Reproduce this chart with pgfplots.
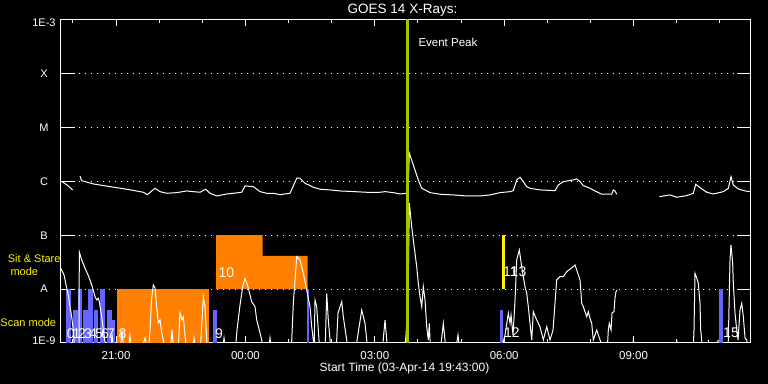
\documentclass[border=0pt]{standalone}
\usepackage{fontspec}
\setmainfont{Liberation Sans}
\usepackage{pgfplots}
\pgfplotsset{compat=1.18}
\definecolor{scanblue}{RGB}{102,102,255}
\definecolor{ssorange}{RGB}{255,128,0}
\definecolor{peakgreen}{RGB}{160,200,0}
\newcommand{\fs}[1]{\fontsize{#1bp}{#1bp}\selectfont}
\begin{document}
\begin{tikzpicture}
\fill[black] (0,0) rectangle (768bp,384bp);
\begin{axis}[
  at={(60.7bp,41bp)}, anchor=south west,
  scale only axis, width=690bp, height=323.5bp,
  xmin=-4.2833, xmax=11.7167, ymin=-9, ymax=-3,
  axis line style={white, line width=1bp},
  xtick={-3,0,3,6,9}, xticklabels={21:00,00:00,03:00,06:00,09:00},
  minor xtick={-4,-2,-1,1,2,4,5,7,8,10,11},
  ytick={-9,-8,-7,-6,-5,-4,-3},
  yticklabels={\raisebox{2.8bp}{1E-9},A,B,C,M,X,\raisebox{-3.6bp}{1E-3}},
  tick style={white, line width=1bp},
  xtick style={/pgfplots/major tick length=6.7bp, /pgfplots/minor tick length=4bp},
  ytick style={/pgfplots/major tick length=14bp},
  ymajorgrids, grid style={white, line width=1bp, dash pattern=on 1bp off 5bp},
  xticklabel style={white, font=\fs{11.5}, anchor=base, yshift=-16.3bp},
  yticklabel style={white, font=\fs{11}, anchor=base, xshift=-16.7bp, yshift=-3.9bp},
  clip=true,
]
% Scan mode bars
\addplot[fill=scanblue, draw=none] coordinates {(-4.167,-9.1) (-4.167,-8.0) (-4.051,-8.0) (-4.051,-9.1)} -- cycle;
\addplot[fill=scanblue, draw=none] coordinates {(-4.005,-9.1) (-4.005,-8.388) (-3.889,-8.388) (-3.889,-9.1)} -- cycle;
\addplot[fill=scanblue, draw=none] coordinates {(-3.889,-9.1) (-3.889,-8.0) (-3.782,-8.0) (-3.782,-9.1)} -- cycle;
\addplot[fill=scanblue, draw=none] coordinates {(-3.759,-9.1) (-3.759,-8.388) (-3.657,-8.388) (-3.657,-9.1)} -- cycle;
\addplot[fill=scanblue, draw=none] coordinates {(-3.657,-9.1) (-3.657,-8.0) (-3.541,-8.0) (-3.541,-9.1)} -- cycle;
\addplot[fill=scanblue, draw=none] coordinates {(-3.504,-9.1) (-3.504,-8.388) (-3.425,-8.388) (-3.425,-9.1)} -- cycle;
\addplot[fill=scanblue, draw=none] coordinates {(-3.372,-9.1) (-3.372,-8.0) (-3.256,-8.0) (-3.256,-9.1)} -- cycle;
\addplot[fill=scanblue, draw=none] coordinates {(-3.216,-9.1) (-3.216,-8.388) (-3.100,-8.388) (-3.100,-9.1)} -- cycle;
\addplot[fill=scanblue, draw=none] coordinates {(-3.100,-9.1) (-3.100,-8.573) (-3.024,-8.573) (-3.024,-9.1)} -- cycle;
\addplot[fill=scanblue, draw=none] coordinates {(-0.744,-9.1) (-0.744,-8.388) (-0.652,-8.388) (-0.652,-9.1)} -- cycle;
\addplot[fill=scanblue, draw=none] coordinates {(1.421,-9.1) (1.421,-8.0) (1.482,-8.0) (1.482,-9.1)} -- cycle;
\addplot[fill=scanblue, draw=none] coordinates {(5.904,-9.1) (5.904,-8.388) (5.966,-8.388) (5.966,-9.1)} -- cycle;
\addplot[fill=scanblue, draw=none] coordinates {(10.982,-9.1) (10.982,-8.0) (11.082,-8.0) (11.082,-9.1)} -- cycle;
% Sit and stare (orange)
\addplot[fill=ssorange, draw=none] coordinates {(-2.984,-9.1) (-2.984,-8.0) (-0.844,-8.0) (-0.844,-9.1)} -- cycle;
\addplot[fill=ssorange, draw=none] coordinates {(-0.682,-8.0) (-0.682,-7.0) (0.401,-7.0) (0.401,-7.386) (1.445,-7.386) (1.445,-8.0)} -- cycle;
% yellow bar
\addplot[fill=yellow, draw=none] coordinates {(5.950,-8.0) (5.950,-7.0) (6.013,-7.0) (6.013,-8.0)} -- cycle;
% Upper (long) channel
\addplot[white, line width=1bp] coordinates {(-4.283,-6.007) (-4.253,-6.007) (-4.137,-6.069) (-4.005,-6.161)};
\addplot[white, line width=1bp] coordinates {(-3.835,-5.902) (-3.80,-5.99) (-3.719,-6.007) (-3.527,-6.050) (-3.140,-6.100) (-2.752,-6.148) (-2.368,-6.204) (-2.275,-6.249) (-2.096,-6.130) (-1.980,-6.193) (-1.825,-6.223) (-1.593,-6.211) (-1.361,-6.180) (-1.208,-6.193) (-1.053,-6.204) (-0.921,-6.148) (-0.821,-6.223) (-0.666,-6.273) (-0.434,-6.236) (-0.281,-6.223) (-0.086,-6.204) (-0.009,-6.087) (0.183,-6.100) (0.339,-6.193) (0.494,-6.223) (0.647,-6.223) (0.802,-6.249) (1.034,-6.223) (1.190,-5.944) (1.266,-5.944) (1.382,-6.037) (1.574,-6.111) (1.730,-6.148) (1.962,-6.161) (2.194,-6.180) (2.426,-6.189) (2.657,-6.198) (2.889,-6.208) (3.121,-6.204) (3.237,-6.193) (3.430,-6.211) (3.585,-6.236) (3.740,-6.223) (3.770,-6.20) (3.801,-5.480) (3.893,-5.698) (4.009,-5.976) (4.088,-6.130) (4.165,-6.161) (4.281,-6.211) (4.512,-6.241) (4.821,-6.254) (5.132,-6.273) (5.440,-6.273) (5.672,-6.254) (5.904,-6.211) (6.136,-6.193) (6.212,-6.174) (6.291,-5.976) (6.368,-5.926) (6.444,-6.007) (6.523,-6.100) (6.599,-6.130) (6.831,-6.161) (7.179,-6.174) (7.256,-6.069) (7.371,-6.007) (7.603,-5.976) (7.682,-5.957) (7.759,-6.007) (7.835,-6.082) (7.991,-6.130) (8.107,-6.180) (8.262,-6.241) (8.494,-6.241) (8.531,-6.161) (8.570,-6.180) (8.610,-6.241)};
\addplot[white, line width=1bp] coordinates {(9.598,-6.286) (9.846,-6.254) (10.001,-6.297) (10.233,-6.267) (10.386,-6.223) (10.442,-6.056) (10.541,-6.119) (10.697,-6.204) (10.850,-6.236) (11.082,-6.193) (11.198,-6.130) (11.260,-5.915) (11.313,-6.069) (11.429,-6.143) (11.585,-6.180) (11.717,-6.193)};
% Lower (short) channel
\addplot[white, line width=1bp] coordinates {(-4.283,-7.609) (-4.206,-7.738) (-4.144,-7.980) (-4.107,-8.109) (-4.067,-8.332) (-4.028,-8.518) (-3.991,-8.759) (-3.951,-9.2) (-3.858,-9.2) (-3.852,-7.312) (-3.796,-7.460) (-3.719,-7.614) (-3.666,-7.707) (-3.603,-7.831) (-3.541,-7.985) (-3.487,-8.141) (-3.448,-8.202) (-3.411,-8.171) (-3.388,-8.234) (-3.332,-8.512) (-3.295,-8.759) (-3.216,-9.2) (-3.140,-9.2) (-3.093,-8.852) (-3.047,-9.2) (-2.908,-9.2) (-2.861,-8.759) (-2.815,-9.2) (-2.722,-9.2) (-2.676,-8.852) (-2.630,-9.2) (-2.444,-9.2) (-2.328,-8.907) (-2.259,-9.2) (-2.212,-8.759) (-2.177,-8.202) (-2.136,-7.924) (-2.096,-7.980) (-2.057,-8.332) (-2.020,-8.629) (-1.980,-8.573) (-1.941,-8.814) (-1.904,-8.944) (-1.864,-9.2) (-1.748,-9.2) (-1.702,-8.759) (-1.656,-9.2) (-1.563,-9.2) (-1.517,-8.443) (-1.470,-8.573) (-1.440,-8.518) (-1.401,-8.852) (-1.354,-9.2) (-1.238,-9.2) (-1.192,-8.907) (-1.145,-9.2) (-1.053,-9.2) (-1.006,-8.573) (-0.976,-8.147) (-0.937,-8.327) (-0.897,-8.944) (-0.867,-9.2) (-0.543,-9.2) (-0.496,-8.907) (-0.450,-9.2) (-0.241,-9.2) (-0.195,-8.759) (-0.125,-8.295) (-0.056,-7.924) (-0.009,-7.800) (0.060,-7.961) (0.146,-8.234) (0.223,-8.327) (0.262,-8.573) (0.339,-8.814) (0.378,-8.944) (0.408,-9.2) (0.524,-9.2) (0.570,-8.907) (0.617,-9.2) (1.034,-9.2) (1.074,-8.944) (1.111,-8.263) (1.150,-7.831) (1.190,-7.399) (1.266,-7.460) (1.343,-7.707) (1.421,-8.017) (1.459,-8.171) (1.498,-8.327) (1.537,-8.698) (1.574,-8.944) (1.591,-9.2) (1.614,-8.202) (1.653,-8.327) (1.690,-8.759) (1.730,-9.2) (1.846,-9.2) (1.885,-8.078) (1.922,-8.573) (1.962,-8.944) (1.985,-9.2) (2.101,-9.2) (2.147,-8.443) (2.233,-8.234) (2.270,-8.512) (2.349,-8.944) (2.379,-9.2) (2.541,-9.2) (2.697,-8.388) (2.773,-8.635) (2.813,-8.944) (2.843,-9.2) (3.167,-9.2) (3.237,-8.573) (3.276,-8.944) (3.307,-9.2) (3.678,-9.2) (3.724,-8.852) (3.770,-8.202) (3.801,-6.408) (3.856,-6.842) (3.893,-7.089) (3.972,-7.584) (4.009,-7.892) (4.049,-8.141) (4.088,-8.327) (4.125,-7.955) (4.165,-8.202) (4.204,-8.698) (4.241,-8.944) (4.264,-8.635) (4.281,-8.944) (4.304,-9.2) (4.512,-9.2) (4.589,-8.635) (4.628,-8.944) (4.652,-9.2) (4.860,-9.2) (4.930,-8.852) (4.976,-9.2) (5.904,-9.2) (6.020,-8.852) (6.096,-8.449) (6.136,-8.635) (6.159,-8.481) (6.205,-8.852) (6.252,-8.202) (6.291,-7.460) (6.351,-7.275) (6.407,-7.584) (6.444,-7.770) (6.483,-7.955) (6.523,-8.078) (6.560,-8.327) (6.599,-8.635) (6.639,-8.944) (6.676,-8.419) (6.755,-8.573) (6.831,-8.698) (6.908,-8.944) (6.987,-8.698) (7.063,-8.944) (7.133,-8.759) (7.218,-7.831) (7.295,-7.770) (7.371,-7.770) (7.450,-7.677) (7.603,-7.584) (7.643,-7.553) (7.682,-7.646) (7.759,-7.831) (7.798,-8.263) (7.835,-8.327) (7.914,-8.512) (7.951,-8.419) (7.991,-8.542) (8.030,-8.635) (8.067,-8.944) (8.146,-8.759) (8.223,-8.944) (8.338,-9.2) (8.385,-9.2) (8.415,-8.759) (8.438,-8.635) (8.478,-8.759) (8.501,-8.443) (8.547,-8.419) (8.570,-8.165) (8.594,-8.048) (8.617,-8.017)};
\addplot[white, line width=1bp] coordinates {(8.686,-9.2) (8.988,-9.2) (8.995,-8.889) (9.011,-9.2) (9.985,-9.2) (10.001,-8.944) (10.020,-9.2) (10.379,-9.2) (10.402,-8.759) (10.425,-7.707) (10.465,-7.794) (10.502,-7.892) (10.541,-8.263) (10.557,-8.759) (10.581,-8.944) (10.588,-9.2) (10.727,-9.2) (10.734,-8.944) (10.750,-9.2) (10.935,-9.2) (10.959,-8.944) (10.982,-9.2) (11.168,-9.2) (11.198,-8.944) (11.237,-7.460) (11.260,-7.182) (11.299,-7.521) (11.313,-7.892) (11.353,-8.449) (11.393,-8.759) (11.423,-8.944) (11.469,-8.388) (11.508,-8.263) (11.546,-8.512) (11.585,-8.907) (11.625,-8.944) (11.654,-9.2) (11.724,-9.2)};
% Event peak line
\addplot[peakgreen, line width=2.3bp] coordinates {(3.759,-9) (3.759,-3)};
% event labels
\begin{scope}[every node/.style={white, font=\fs{14}, anchor=base west, inner sep=0pt}]
\node at (axis cs:-4.144,-8.913) {0};
\node at (axis cs:-4.009,-8.913) {1};
\node at (axis cs:-3.882,-8.913) {2};
\node at (axis cs:-3.743,-8.913) {3};
\node at (axis cs:-3.627,-8.913) {4};
\node at (axis cs:-3.487,-8.913) {5};
\node at (axis cs:-3.348,-8.913) {6};
\node at (axis cs:-3.209,-8.913) {7};
\node at (axis cs:-2.947,-8.913) {8};
\node at (axis cs:-0.705,-8.913) {9};
\node at (axis cs:-0.628,-7.781) {10};
\node at (axis cs:5.973,-7.770) {11\kern-7bp 13};
\node at (axis cs:5.996,-8.907) {12};
\node at (axis cs:11.075,-8.907) {15};
\end{scope}
\end{axis}
\node[white, font=\fs{13.5}, anchor=base, inner sep=0pt] at (402.5bp,370bp) {GOES 14 X-Rays:};
\node[white, font=\fs{12}, anchor=base, inner sep=0pt] at (404.5bp,12.3bp) {Start Time (03-Apr-14 19:43:00)};
\node[white, font=\fs{11.5}, anchor=west, inner sep=0pt] at (418.3bp,341.5bp) {Event Peak};
\node[yellow, font=\fs{11}, inner sep=0pt] at (34.2bp,125.5bp) {Sit \& Stare};
\node[yellow, font=\fs{11}, inner sep=0pt] at (24.3bp,112.5bp) {mode};
\node[yellow, font=\fs{11}, inner sep=0pt] at (28.3bp,61bp) {Scan mode};
\pgfresetboundingbox
\path[use as bounding box] (0,0) rectangle (768bp,384bp);
\end{tikzpicture}
\end{document}
